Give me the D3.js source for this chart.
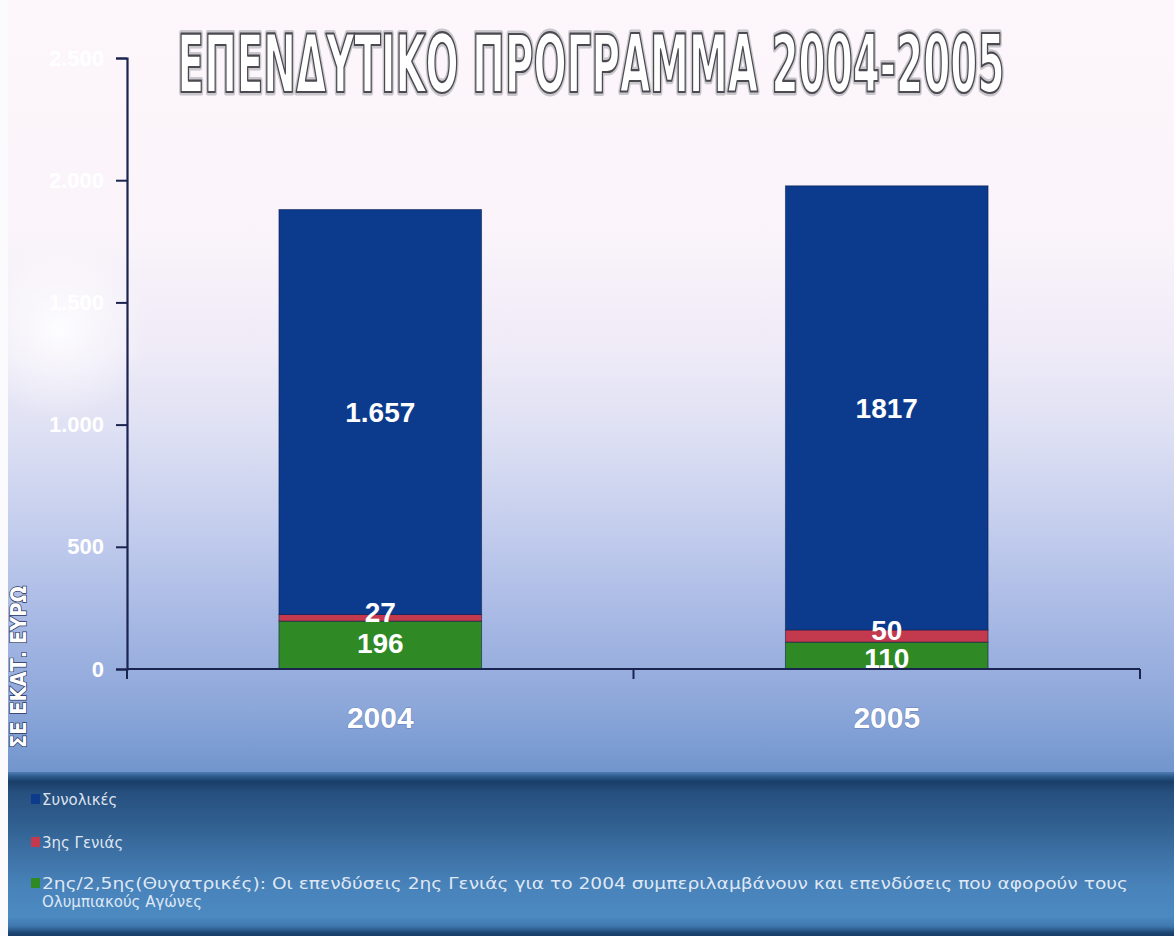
<!DOCTYPE html>
<html lang="el">
<head>
<meta charset="utf-8">
<title>ΕΠΕΝΔΥΤΙΚΟ ΠΡΟΓΡΑΜΜΑ 2004-2005</title>
<script src="https://cdn.jsdelivr.net/npm/d3@7"></script>
<style>
  html, body { margin: 0; padding: 0; background: #ffffff; }
  svg { display: block; }
</style>
</head>
<body>
<svg id="chart" width="1174" height="936"></svg>
<script>
// Investment programme, million euro, by year
const categories = ["2004", "2005"];
const seriesKeys = ["second", "third", "total"];
const secondGen = [196, 110];   // 2ης/2,5ης
const thirdGen = [27, 50];      // 3ης Γενιάς
const totalOther = [1657, 1817]; // Συνολικές
const secondLabels = ["196", "110"];
const thirdLabels = ["27", "50"];
const totalLabels = ["1.657", "1817"];
const yTicks = [0, 500, 1000, 1500, 2000, 2500];
const legendLabels = [
  ["Συνολικές"],
  ["3ης Γενιάς"],
  ["2ης/2,5ης(Θυγατρικές): Οι επενδύσεις 2ης Γενιάς για το 2004 συμπεριλαμβάνουν και επενδύσεις που αφορούν τους",
   "Ολυμπιακούς Αγώνες"]
];
const titleText = "ΕΠΕΝΔΥΤΙΚΟ ΠΡΟΓΡΑΜΜΑ 2004-2005";
const yTitle = "ΣΕ ΕΚΑΤ. ΕΥΡΩ";

const colors = { second: "#2f8a26", third: "#c33a4e", total: "#0c3b8e" };

const W = 1174, H = 936;
const plot = { left: 127, right: 1140, top: 58, bottom: 669 };

const svg = d3.select("#chart");
const defs = svg.append("defs");

// Page background: pale pink-white fading into sky blue
const bg = defs.append("linearGradient").attr("id", "bg")
  .attr("x1", 0).attr("y1", 0).attr("x2", 0).attr("y2", 1);
[[0, "#fdf7fb"], [0.25, "#faf4fa"], [0.38, "#eeeaf7"], [0.47, "#dcdff3"],
 [0.58, "#bfcaec"], [0.68, "#a2b5e2"], [0.75, "#8ea8da"], [0.8, "#7b9cd2"], [0.83, "#6f93cb"], [1, "#5c86c0"]]
  .forEach(([o, c]) => bg.append("stop").attr("offset", o).attr("stop-color", c));

// Legend band: dark streaks over deep blue
const lg = defs.append("linearGradient").attr("id", "lg")
  .attr("x1", 0).attr("y1", 0).attr("x2", 0).attr("y2", 1);
[[0, "#4f7fb6"], [0.03, "#2a5686"], [0.06, "#193e68"], [0.12, "#264f7e"], [0.3, "#2f5e8e"],
 [0.5, "#3d71a5"], [0.7, "#4883ba"], [0.88, "#4c8ac2"], [0.94, "#3f78ae"], [0.98, "#1d4673"], [1, "#173c66"]]
  .forEach(([o, c]) => lg.append("stop").attr("offset", o).attr("stop-color", c));

// soft white glare on the left of the plot
const glare = defs.append("radialGradient").attr("id", "glare");
glare.append("stop").attr("offset", 0).attr("stop-color", "#ffffff").attr("stop-opacity", 0.85);
glare.append("stop").attr("offset", 1).attr("stop-color", "#ffffff").attr("stop-opacity", 0);

svg.append("rect").attr("width", W).attr("height", H).attr("fill", "url(#bg)");
svg.append("ellipse").attr("cx", 60).attr("cy", 330).attr("rx", 90).attr("ry", 90).attr("fill", "url(#glare)");
svg.append("rect").attr("x", 8).attr("y", 772).attr("width", W - 8).attr("height", H - 772)
  .attr("fill", "url(#lg)");
// thin light strip down the left edge
svg.append("rect").attr("x", 0).attr("y", 0).attr("width", 8).attr("height", H).attr("fill", "#fbfbfe");

// Scales
const x = d3.scaleBand().domain(categories).range([plot.left, plot.right])
  .paddingInner(0.6).paddingOuter(0.3);
const y = d3.scaleLinear().domain([0, 2500]).range([plot.bottom, plot.top]);

const grLocale = d3.formatLocale({ decimal: ",", thousands: ".", grouping: [3], currency: ["", " €"] });
const fmt = grLocale.format(",d");

// Stacked data
const rows = categories.map((c, i) => ({
  year: c, second: secondGen[i], third: thirdGen[i], total: totalOther[i]
}));
const stacked = d3.stack().keys(seriesKeys)(rows);
const labelSets = { second: secondLabels, third: thirdLabels, total: totalLabels };

const g = svg.append("g");
stacked.forEach(layer => {
  g.selectAll(null).data(layer).join("rect")
    .attr("x", d => x(d.data.year))
    .attr("width", x.bandwidth())
    .attr("y", d => y(d[1]))
    .attr("height", d => y(d[0]) - y(d[1]))
    .attr("fill", colors[layer.key])
    .attr("stroke", "rgba(8,26,70,0.55)")
    .attr("stroke-width", 1);
});

// Y axis (white labels, lost against the pale upper background)
const yAxis = d3.axisLeft(y).tickValues(yTicks).tickSize(11).tickPadding(12).tickFormat(fmt);
const ya = svg.append("g").attr("transform", `translate(${plot.left},0)`).call(yAxis);
ya.select(".domain").attr("stroke", "#1b2450").attr("stroke-width", 2.2);
ya.selectAll(".tick line").attr("stroke", "#1b2450").attr("stroke-width", 2);
ya.selectAll(".tick text")
  .attr("fill", "#ffffff").attr("font-family", "'Liberation Sans', Arial, sans-serif")
  .attr("font-weight", "bold").attr("font-size", 22);

// X axis line with boundary ticks between categories
svg.append("line").attr("x1", plot.left).attr("x2", plot.right)
  .attr("y1", plot.bottom).attr("y2", plot.bottom)
  .attr("stroke", "#1b2450").attr("stroke-width", 2.2);
const boundaries = [plot.left, (x(categories[0]) + x.bandwidth() + x(categories[1])) / 2, plot.right];
svg.selectAll(null).data(boundaries).join("line")
  .attr("x1", d => d).attr("x2", d => d)
  .attr("y1", plot.bottom).attr("y2", plot.bottom + 10)
  .attr("stroke", "#1b2450").attr("stroke-width", 2);

const xAxis = d3.axisBottom(x).tickSize(0).tickPadding(38);
const xa = svg.append("g").attr("transform", `translate(0,${plot.bottom})`).call(xAxis);
xa.select(".domain").remove();
xa.selectAll(".tick text")
  .attr("fill", "#ffffff").attr("font-family", "'Liberation Sans', Arial, sans-serif")
  .attr("font-weight", "bold").attr("font-size", 30)
  .attr("stroke", "rgba(40,60,120,0.35)").attr("stroke-width", 1).attr("paint-order", "stroke");

// Value labels in the middle of each segment
stacked.forEach(layer => {
  g.selectAll(null).data(layer).join("text")
    .attr("x", d => x(d.data.year) + x.bandwidth() / 2)
    .attr("y", (d, i) => {
      const mid = (y(d[0]) + y(d[1])) / 2;
      if (layer.key === "third") return mid - 6;
      if (layer.key === "second") return mid + (i === 1 ? 2 : -2);
      return mid;
    })
    .attr("dy", "0.36em")
    .attr("text-anchor", "middle")
    .attr("fill", "#ffffff")
    .attr("font-family", "'Liberation Sans', Arial, sans-serif")
    .attr("font-weight", "bold").attr("font-size", 28)
    .text((d, i) => labelSets[layer.key][i]);
});

// Outlined title
const titleAttrs = sel => sel
  .attr("x", 591).attr("y", 92).attr("text-anchor", "middle")
  .attr("font-family", "'Liberation Sans Narrow', 'DejaVu Sans Condensed', 'Liberation Sans', sans-serif")
  .attr("font-weight", "bold").attr("font-size", 80)
  .attr("textLength", 827).attr("lengthAdjust", "spacingAndGlyphs")
  .text(titleText);
svg.append("text").call(titleAttrs).attr("fill", "none")
  .attr("stroke", "#c9c6cc").attr("stroke-width", 7).attr("stroke-linejoin", "round");
svg.append("text").call(titleAttrs).attr("fill", "#ffffff")
  .attr("stroke", "#4a4a50").attr("stroke-width", 2.2).attr("stroke-linejoin", "round");

// Rotated unit label
const yt = svg.append("g").attr("transform", "translate(26,667) rotate(-90)");
yt.append("text").attr("x", 0).attr("y", 0).attr("text-anchor", "middle")
  .attr("font-family", "'Liberation Sans Narrow', 'DejaVu Sans Condensed', 'Liberation Sans', sans-serif")
  .attr("font-weight", "bold").attr("font-size", 21)
  .attr("textLength", 162).attr("lengthAdjust", "spacingAndGlyphs")
  .attr("fill", "#ffffff").attr("stroke", "#2a3560").attr("stroke-width", 1.4).attr("paint-order", "stroke")
  .text(yTitle);

// Legend
const legendItems = [
  { key: "total", y: 800 },
  { key: "third", y: 843 },
  { key: "second", y: 884 }
];
const lgd = svg.append("g");
legendItems.forEach((it, i) => {
  lgd.append("rect").attr("x", 31).attr("y", it.y - 6).attr("width", 9).attr("height", 10)
    .attr("fill", colors[it.key]);
  legendLabels[i].forEach((line, j) => {
    const t = lgd.append("text").attr("x", 42).attr("y", it.y + j * 18).attr("dy", "0.35em")
      .attr("fill", "#eef3fb").attr("fill-opacity", 0.92)
      .attr("font-family", "'DejaVu Sans', Verdana, sans-serif").attr("font-size", 15)
      .text(line);
    if (i === 2 && j === 0) t.attr("textLength", 1086).attr("lengthAdjust", "spacingAndGlyphs");
  });
});
</script>
</body>
</html>
